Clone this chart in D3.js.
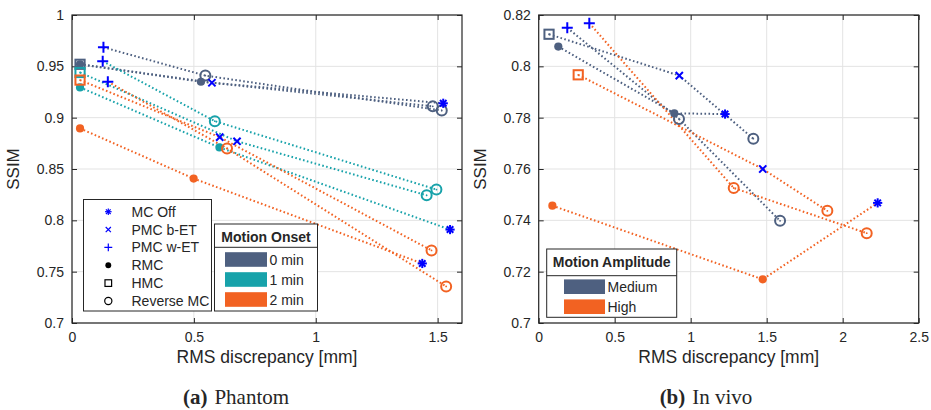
<!DOCTYPE html>
<html>
<head>
<meta charset="utf-8">
<script src="https://cdn.jsdelivr.net/npm/d3@7"></script>
<style>
  html, body { margin: 0; padding: 0; background: #fff; }
  svg text { font-family: "Liberation Sans", Arial, sans-serif; fill: #262626; }
</style>
</head>
<body>
<svg id="chart" width="931" height="410"></svg>
<script>
// ---------- DATA ----------
// each point: [RMS discrepancy (mm), SSIM, method]
// Phantom, motion onset 0 min
const ph0_mcoff = [[0.033, 0.952, "RMC"], [0.529, 0.935, "RMC"], [1.523, 0.914, "MC Off"]];
const ph0_bet   = [[0.033, 0.952, "HMC"], [0.574, 0.934, "PMC b-ET"], [1.480, 0.911, "Reverse MC"]];
const ph0_wet   = [[0.129, 0.9685, "PMC w-ET"], [0.547, 0.941, "Reverse MC"], [1.517, 0.907, "Reverse MC"]];
// Phantom, motion onset 1 min
const ph1_mcoff = [[0.033, 0.9295, "RMC"], [0.605, 0.871, "RMC"], [1.551, 0.791, "MC Off"]];
const ph1_bet   = [[0.033, 0.944, "HMC"], [0.677, 0.877, "PMC b-ET"], [1.455, 0.8244, "Reverse MC"]];
const ph1_wet   = [[0.126, 0.955, "PMC w-ET"], [0.586, 0.8966, "Reverse MC"], [1.495, 0.830, "Reverse MC"]];
// Phantom, motion onset 2 min
const ph2_mcoff = [[0.033, 0.8895, "RMC"], [0.499, 0.8407, "RMC"], [1.437, 0.758, "MC Off"]];
const ph2_bet   = [[0.033, 0.9366, "HMC"], [0.606, 0.881, "PMC b-ET"], [1.475, 0.7707, "Reverse MC"]];
const ph2_wet   = [[0.147, 0.935, "PMC w-ET"], [0.636, 0.870, "Reverse MC"], [1.535, 0.7356, "Reverse MC"]];
// In vivo, medium amplitude
const iv0_mcoff = [[0.129, 0.8077, "RMC"], [0.892, 0.7817, "RMC"], [1.226, 0.7814, "MC Off"]];
const iv0_bet   = [[0.068, 0.8125, "HMC"], [0.925, 0.7964, "PMC b-ET"], [1.412, 0.7718, "Reverse MC"]];
const iv0_wet   = [[0.188, 0.815, "PMC w-ET"], [0.923, 0.7795, "Reverse MC"], [1.588, 0.7398, "Reverse MC"]];
// In vivo, high amplitude
const iv1_mcoff = [[0.090, 0.7457, "RMC"], [1.474, 0.717, "RMC"], [2.230, 0.7468, "MC Off"]];
const iv1_bet   = [[0.260, 0.7967, "HMC"], [1.474, 0.760, "PMC b-ET"], [1.899, 0.7437, "Reverse MC"]];
const iv1_wet   = [[0.333, 0.8168, "PMC w-ET"], [1.283, 0.7526, "Reverse MC"], [2.158, 0.735, "Reverse MC"]];

const methods = ["MC Off", "PMC b-ET", "PMC w-ET", "RMC", "HMC", "Reverse MC"];
const onsetLabels = ["0 min", "1 min", "2 min"];
const amplitudeLabels = ["Medium", "High"];
const phantomXTicks = [0, 0.5, 1, 1.5];
const phantomYTicks = [0.7, 0.75, 0.8, 0.85, 0.9, 0.95, 1];
const vivoXTicks = [0, 0.5, 1, 1.5, 2, 2.5];
const vivoYTicks = [0.7, 0.72, 0.74, 0.76, 0.78, 0.8, 0.82];

const groupColors = ["#4E6080", "#17A2AA", "#F26222"];
const markerBlue = "#0000FF";

const phantomGroups = [[ph0_mcoff, ph0_bet, ph0_wet], [ph1_mcoff, ph1_bet, ph1_wet], [ph2_mcoff, ph2_bet, ph2_wet]];
const vivoGroups = [[iv0_mcoff, iv0_bet, iv0_wet], [iv1_mcoff, iv1_bet, iv1_wet]];

// ---------- DRAWING ----------
const svg = d3.select("#chart");

function drawMarker(g, type, x, y, color, s) {
  s = s || 1;
  const sw = 2 * (s < 1 ? 0.6 : 1);
  if (type === "MC Off") {
    const r = 4.6 * s;
    [0, 45, 90, 135].forEach(a => {
      const dx = r * Math.cos(a * Math.PI / 180), dy = r * Math.sin(a * Math.PI / 180);
      g.append("line").attr("x1", x - dx).attr("y1", y - dy).attr("x2", x + dx).attr("y2", y + dy)
        .attr("stroke", color).attr("stroke-width", sw);
    });
  } else if (type === "PMC b-ET") {
    const r = 3.6 * s;
    g.append("path").attr("d", `M${x - r},${y - r}L${x + r},${y + r}M${x - r},${y + r}L${x + r},${y - r}`)
      .attr("stroke", color).attr("stroke-width", sw).attr("fill", "none");
  } else if (type === "PMC w-ET") {
    const r = 5.5 * s;
    g.append("path").attr("d", `M${x - r},${y}L${x + r},${y}M${x},${y - r}L${x},${y + r}`)
      .attr("stroke", color).attr("stroke-width", sw).attr("fill", "none");
  } else if (type === "RMC") {
    g.append("circle").attr("cx", x).attr("cy", y).attr("r", 4.1 * s).attr("fill", color);
  } else if (type === "HMC") {
    const h = 4.6 * s;
    g.append("rect").attr("x", x - h).attr("y", y - h).attr("width", 2 * h).attr("height", 2 * h)
      .attr("fill", "none").attr("stroke", color).attr("stroke-width", sw);
    if (s >= 1) g.append("circle").attr("cx", x).attr("cy", y).attr("r", 0.9).attr("fill", color);
  } else if (type === "Reverse MC") {
    g.append("circle").attr("cx", x).attr("cy", y).attr("r", 5 * s)
      .attr("fill", "none").attr("stroke", color).attr("stroke-width", sw);
    if (s >= 1) g.append("circle").attr("cx", x).attr("cy", y).attr("r", 0.9).attr("fill", color);
  }
}

function isBlue(type) { return type === "MC Off" || type === "PMC b-ET" || type === "PMC w-ET"; }

function drawPanel(opt) {
  const { left, right, top, bottom, xDomain, yDomain, xTicks, yTicks, groups } = opt;
  const x = d3.scaleLinear().domain(xDomain).range([left, right]);
  const y = d3.scaleLinear().domain(yDomain).range([bottom, top]);
  const g = svg.append("g");

  // grid
  g.selectAll(null).data(xTicks).enter().append("line")
    .attr("x1", d => x(d)).attr("x2", d => x(d)).attr("y1", top).attr("y2", bottom)
    .attr("stroke", "#e3e3e3").attr("stroke-width", 1);
  g.selectAll(null).data(yTicks).enter().append("line")
    .attr("x1", left).attr("x2", right).attr("y1", d => y(d)).attr("y2", d => y(d))
    .attr("stroke", "#e3e3e3").attr("stroke-width", 1);

  // axes
  const fmt = d => String(+d.toFixed(2));
  const axB = g.append("g").attr("transform", `translate(0,${bottom})`)
    .call(d3.axisBottom(x).tickValues(xTicks).tickFormat(fmt).tickSizeInner(-5).tickSizeOuter(0).tickPadding(9));
  const axT = g.append("g").attr("transform", `translate(0,${top})`)
    .call(d3.axisTop(x).tickValues(xTicks).tickFormat("").tickSizeInner(-5).tickSizeOuter(0));
  const axL = g.append("g").attr("transform", `translate(${left},0)`)
    .call(d3.axisLeft(y).tickValues(yTicks).tickFormat(fmt).tickSizeInner(-5).tickSizeOuter(0).tickPadding(8));
  const axR = g.append("g").attr("transform", `translate(${right},0)`)
    .call(d3.axisRight(y).tickValues(yTicks).tickFormat("").tickSizeInner(-5).tickSizeOuter(0));
  [axB, axT, axL, axR].forEach(a => {
    a.select(".domain").remove();
    a.selectAll(".tick line").attr("stroke", "#262626").attr("stroke-width", 1);
    a.selectAll("text").style("font-size", "14px").attr("fill", "#262626")
      .style("font-family", "'Liberation Sans', Arial, sans-serif");
  });
  g.append("rect").attr("x", left).attr("y", top).attr("width", right - left).attr("height", bottom - top)
    .attr("fill", "none").attr("stroke", "#262626").attr("stroke-width", 1.2);

  // lines
  const line = d3.line().x(d => x(d[0])).y(d => y(d[1]));
  groups.forEach((grp, gi) => {
    grp.forEach(series => {
      g.append("path").attr("d", line(series)).attr("fill", "none")
        .attr("stroke", groupColors[gi === 1 && groups.length === 2 ? 2 : gi])
        .attr("stroke-width", 2).attr("stroke-dasharray", "1.6,2.4");
    });
  });
  // colored markers
  groups.forEach((grp, gi) => {
    const col = groupColors[gi === 1 && groups.length === 2 ? 2 : gi];
    grp.forEach(series => series.forEach(p => {
      if (!isBlue(p[2])) drawMarker(g, p[2], x(p[0]), y(p[1]), col, 1);
    }));
  });
  // blue markers
  groups.forEach(grp => grp.forEach(series => series.forEach(p => {
    if (isBlue(p[2])) drawMarker(g, p[2], x(p[0]), y(p[1]), markerBlue, 1);
  })));

  // labels
  svg.append("text").attr("x", (left + right) / 2).attr("y", 363).attr("text-anchor", "middle")
    .style("font-size", "17.5px").text("RMS discrepancy [mm]");
  svg.append("text").attr("transform", `translate(${opt.yLabelX},${(top + bottom) / 2}) rotate(-90)`)
    .attr("text-anchor", "middle").style("font-size", "17px").text("SSIM");
  const cap = svg.append("text").attr("x", opt.capX).attr("y", 404).attr("text-anchor", "middle")
    .style("font-family", "'Liberation Serif', 'DejaVu Serif', serif").style("font-size", "21px").attr("fill", "#000");
  cap.append("tspan").style("font-weight", "bold").text(opt.capA);
  cap.append("tspan").attr("dx", 7).text(opt.capB);
  return { x, y };
}

drawPanel({
  left: 72, right: 462, top: 15, bottom: 323,
  xDomain: [0, 1.6], yDomain: [0.7, 1], xTicks: phantomXTicks, yTicks: phantomYTicks,
  groups: phantomGroups, yLabelX: 19, capX: 236, capA: "(a)", capB: "Phantom"
});
drawPanel({
  left: 538.7, right: 918.7, top: 15, bottom: 323,
  xDomain: [0, 2.5], yDomain: [0.7, 0.82], xTicks: vivoXTicks, yTicks: vivoYTicks,
  groups: vivoGroups, yLabelX: 486, capX: 706, capA: "(b)", capB: "In vivo"
});

// ---------- LEGENDS ----------
// method legend (phantom)
const lg1 = svg.append("g");
lg1.append("rect").attr("x", 83.5).attr("y", 199.5).attr("width", 128).attr("height", 111.5)
  .attr("fill", "#fff").attr("stroke", "#262626").attr("stroke-width", 1);
methods.forEach((m, i) => {
  const yy = 211.7 + i * 17.85;
  drawMarker(lg1, m, 108.3, yy, isBlue(m) ? markerBlue : "#000", 0.72);
  lg1.append("text").attr("x", 131.5).attr("y", yy + 5).style("font-size", "14px").text(m);
});

// color legend helper
function colorLegend(o) {
  const lg = svg.append("g");
  lg.append("rect").attr("x", o.x).attr("y", o.y).attr("width", o.w).attr("height", o.h)
    .attr("fill", "#fff").attr("stroke", "#262626").attr("stroke-width", 1);
  lg.append("text").attr("x", o.x + o.w / 2).attr("y", o.y + 18).attr("text-anchor", "middle")
    .style("font-size", "14px").style("font-weight", "bold").attr("fill", "#000").text(o.title);
  lg.append("line").attr("x1", o.x).attr("x2", o.x + o.w).attr("y1", o.sepY).attr("y2", o.sepY)
    .attr("stroke", "#262626").attr("stroke-width", 1);
  o.labels.forEach((lab, i) => {
    const cy = o.firstY + i * o.step;
    lg.append("rect").attr("x", o.swX).attr("y", cy - 7.3).attr("width", o.swW).attr("height", 14.6)
      .attr("fill", o.colors[i]);
    lg.append("text").attr("x", o.swX + o.swW + 2.5).attr("y", cy + 5.2).style("font-size", "14px").text(lab);
  });
}
colorLegend({
  x: 214.5, y: 224, w: 103, h: 87, title: "Motion Onset", sepY: 247.3,
  labels: onsetLabels, colors: groupColors, firstY: 259.5, step: 20, swX: 225, swW: 42
});
colorLegend({
  x: 546.7, y: 249, w: 130, h: 68.3, title: "Motion Amplitude", sepY: 275.7,
  labels: amplitudeLabels, colors: [groupColors[0], groupColors[2]], firstY: 286.7, step: 20, swX: 564, swW: 41
});
</script>
</body>
</html>
